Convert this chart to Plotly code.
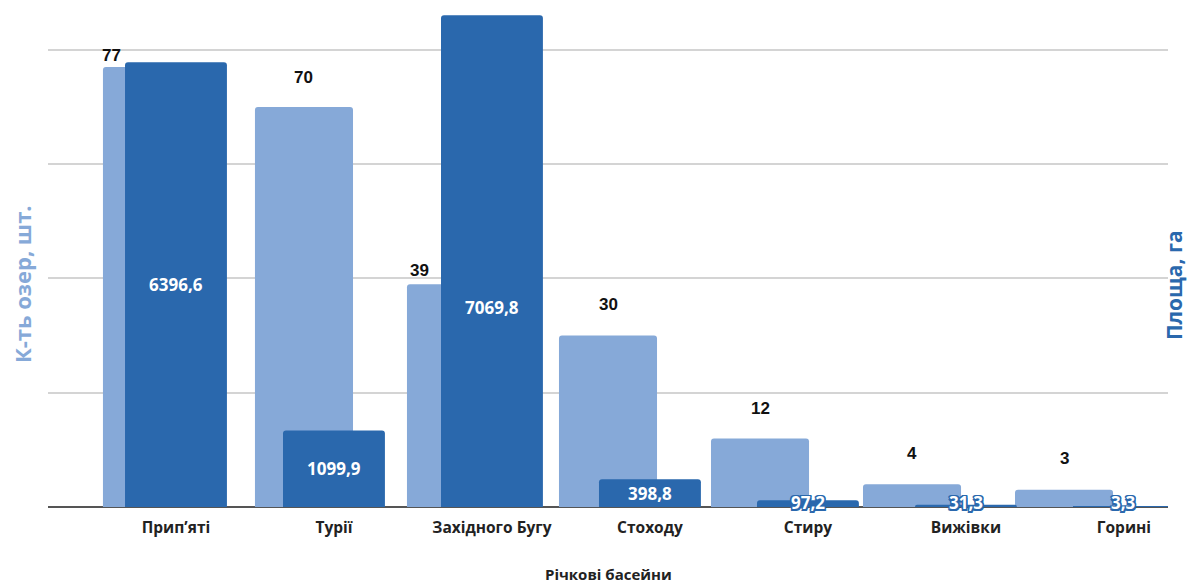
import plotly.graph_objects as go

categories = ["Прип’яті", "Турії", "Західного Бугу", "Стоходу", "Стиру", "Вижівки", "Горині"]
lake_count = [77, 70, 39, 30, 12, 4, 3]
lake_area = [6396.6, 1099.9, 7069.8, 398.8, 97.2, 31.3, 3.3]
area_labels = ["6396,6", "1099,9", "7069,8", "398,8", "97,2", "31,3", "3,3"]

LIGHT = "#86a9d8"
DARK = "#2a68ad"
idx = list(range(len(categories)))

fig = go.Figure()
fig.add_trace(go.Bar(x=idx, y=lake_count, width=0.645, marker=dict(color=LIGHT, line=dict(width=0)),
                     xaxis="x", yaxis="y", hoverinfo="skip"))
fig.add_trace(go.Bar(x=idx, y=lake_area, width=0.645, marker=dict(color=DARK, line=dict(width=0)),
                     xaxis="x2", yaxis="y2", hoverinfo="skip"))

annotations = []
# count labels (black, above light bars)
count_shift = [(-40, 12), (0, 30), (-36, 14), (0, 31), (0, 30), (0, 31), (0, 31)]
for i, v in enumerate(lake_count):
    dx, dy = count_shift[i]
    annotations.append(dict(x=i, y=v, xref="x", yref="y", text=f"<b>{v}</b>", showarrow=False,
                            xanchor="center", yanchor="middle", xshift=dx, yshift=dy,
                            font=dict(family="Liberation Sans, Arial", size=17, color="#111111")))
# area labels
outline = ", ".join(f"{a}px {b}px 0 {DARK}" for a in (-1.5, 0, 1.5) for b in (-1.5, 0, 1.5) if (a, b) != (0, 0))
for i, v in enumerate(lake_area):
    if v > 300:
        annotations.append(dict(x=i, y=v / 2, xref="x2", yref="y2", text=f"<b>{area_labels[i]}</b>",
                                showarrow=False, xanchor="center", yanchor="middle",
                                yshift=-46 if v > 7000 else 0,
                                font=dict(family="Open Sans", size=17, color="white")))
    else:
        annotations.append(dict(x=i, y=0, xref="x2", yref="y2", text=f"<b>{area_labels[i]}</b>",
                                showarrow=False, xanchor="center", yanchor="middle", yshift=5,
                                font=dict(family="Open Sans", size=17, color="white", shadow=outline)))

# axis titles
annotations.append(dict(xref="paper", yref="paper", x=0, y=0.453, xshift=-26, text="<b>К-ть озер, шт.</b>",
                        textangle=-90, showarrow=False, xanchor="center", yanchor="middle",
                        font=dict(family="Open Sans", size=22, color=LIGHT)))
annotations.append(dict(xref="paper", yref="paper", x=1, y=0.451, xshift=6, text="<b>Площа, га</b>",
                        textangle=-90, showarrow=False, xanchor="center", yanchor="middle",
                        font=dict(family="Open Sans", size=21, color=DARK)))
annotations.append(dict(xref="paper", yref="paper", x=0.5, y=0, yshift=-67, text="<b>Річкові басейни</b>",
                        showarrow=False, xanchor="center", yanchor="middle",
                        font=dict(family="Open Sans", size=15, color="#222222")))

fig.update_layout(
    width=1187, height=583,
    margin=dict(l=48, r=19, t=15, b=76),
    paper_bgcolor="white", plot_bgcolor="white",
    showlegend=False,
    barmode="overlay",
    barcornerradius=3,
    xaxis=dict(range=[-0.684, 6.684], showticklabels=False, showgrid=False, zeroline=False,
               showline=False, ticks=""),
    xaxis2=dict(range=[-0.810, 6.279], overlaying="x", anchor="y", side="bottom",
                tickmode="array", tickvals=idx, ticktext=[f"<b>{c}</b>" for c in categories],
                tickfont=dict(family="Open Sans", size=15.5, color="#222222"),
                showgrid=False, zeroline=False, showline=False, ticks="", ticklabelstandoff=9),
    yaxis=dict(range=[0, 86.1], dtick=20, showticklabels=False, showgrid=True, gridcolor="#d4d4d4",
               gridwidth=1.5, zeroline=True, zerolinecolor="#555555", zerolinewidth=1.5, ticks=""),
    yaxis2=dict(range=[0, 7075], overlaying="y", side="right", anchor="x", showticklabels=False,
                showgrid=False, zeroline=False, ticks=""),
    annotations=annotations,
)

fig.write_html("out.html")
